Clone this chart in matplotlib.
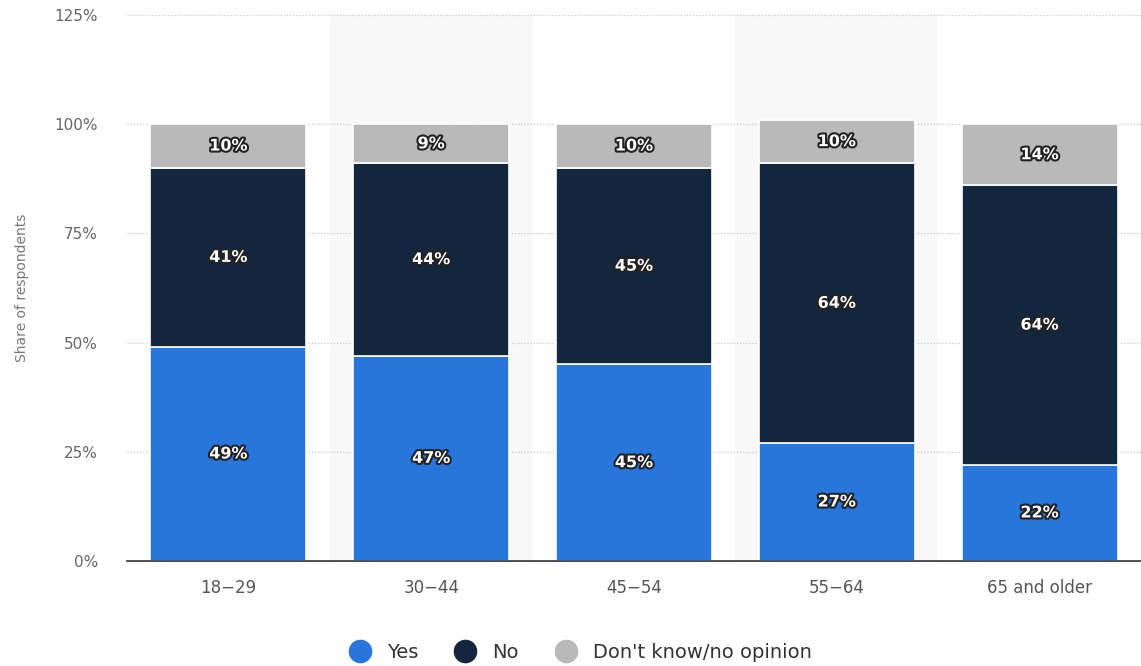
import numpy as np
import matplotlib
matplotlib.use("Agg")
import matplotlib.pyplot as plt
import matplotlib.patheffects as pe
from matplotlib.lines import Line2D

categories = ["18-29", "30-44", "45-54", "55-64", "65 and older"]
yes = [49, 47, 45, 27, 22]
no = [41, 44, 45, 64, 64]
dont_know = [10, 9, 10, 10, 14]

series_names = ["Yes", "No", "Don't know/no opinion"]
colors = ["#2875dc", "#12263d", "#b9b9b9"]

fig = plt.figure(figsize=(11.41, 6.66), dpi=100)
ax = fig.add_axes([0.1113, 0.1577, 0.8887, 0.8198])

x = np.arange(len(categories))

# alternating light bands
for i in x:
    if i % 2 == 1:
        ax.axvspan(i - 0.5, i + 0.5, color="#f8f8f8", zorder=0, lw=0)

# grid
for v in range(25, 126, 25):
    ax.axhline(v, color="#c8c8c8", lw=0.9, ls=(0, (1, 1.5)), zorder=1)
ax.axhline(0, color="#333333", lw=1.2, zorder=6, clip_on=False)

stroke = [pe.withStroke(linewidth=3, foreground="#222222")]
bottom = np.zeros(len(categories))
for vals, col in zip([yes, no, dont_know], colors):
    vals = np.array(vals, dtype=float)
    ax.bar(x, vals, bottom=bottom, width=0.77, color=col,
           edgecolor="white", linewidth=1.2, zorder=3)
    for xi, b, v in zip(x, bottom, vals):
        ax.text(xi, b + v / 2, f"{int(v)}%", ha="center", va="center",
                color="white", fontsize=11.5, fontweight="bold",
                path_effects=stroke, zorder=5)
    bottom += vals

ax.set_xlim(-0.5, len(categories) - 0.5)
ax.set_ylim(0, 125)
ax.set_yticks(range(0, 126, 25))
ax.set_yticklabels([f"{v}%" for v in range(0, 126, 25)])
ax.set_xticks(x)
ax.set_xticklabels([c.replace("-", "\u2212") if c != "65 and older" else c for c in categories])

ax.tick_params(axis="y", length=0, pad=21, labelsize=11, labelcolor="#666666")
ax.tick_params(axis="x", length=0, pad=13, labelsize=12, labelcolor="#555555")
for s in ax.spines.values():
    s.set_visible(False)

ax.set_ylabel("Share of respondents", fontsize=10, color="#777777", labelpad=18)

handles = [Line2D([0], [0], marker="o", ls="", markersize=16,
                  markerfacecolor=c, markeredgecolor=c) for c in colors]
fig.legend(handles, series_names, loc="center", bbox_to_anchor=(0.505, 0.02),
           ncol=3, frameon=False, fontsize=14, handletextpad=0.4,
           columnspacing=1.4, labelcolor="#333333")

fig.savefig("out.png", dpi=100)
